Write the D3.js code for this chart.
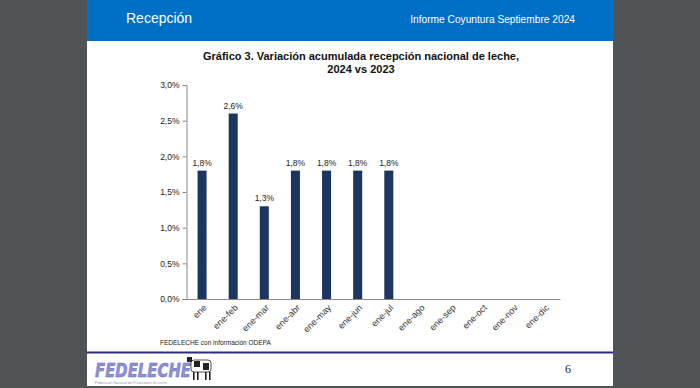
<!DOCTYPE html>
<html>
<head>
<meta charset="utf-8">
<script src="https://cdn.jsdelivr.net/npm/d3@7"></script>
<style>
  body { margin: 0; background: #505456; }
  svg { display: block; font-family: "Liberation Sans", Arial, sans-serif; }
</style>
</head>
<body>
<div id="chart"></div>
<script>
// data
const categories = ["ene", "ene-feb", "ene-mar", "ene-abr", "ene-may", "ene-jun", "ene-jul",
                    "ene-ago", "ene-sep", "ene-oct", "ene-nov", "ene-dic"];
const values = [1.8, 2.6, 1.3, 1.8, 1.8, 1.8, 1.8, null, null, null, null, null];
const yTicks = [0, 0.5, 1.0, 1.5, 2.0, 2.5, 3.0];

const w = 700, h = 388;
const fmt = d => d.toFixed(1).replace(".", ",") + "%";
const font = "'Liberation Sans', Arial, sans-serif";

const svg = d3.select("#chart")
    .append("svg")
    .attr("width", w)
    .attr("height", h);

// page
svg.append("rect").attr("width", w).attr("height", h).attr("fill", "#505456");
svg.append("rect").attr("x", 87).attr("y", 0).attr("width", 526).attr("height", 386).attr("fill", "#fff");
svg.append("rect").attr("x", 87).attr("y", 0).attr("width", 526).attr("height", 41).attr("fill", "#0070c6");

svg.append("text").attr("x", 126).attr("y", 23)
    .attr("fill", "#fff").attr("font-size", 14).text("Recepción");
svg.append("text").attr("x", 575).attr("y", 23).attr("text-anchor", "end")
    .attr("fill", "#fff").attr("font-size", 10.2).text("Informe Coyuntura Septiembre 2024");

// title
const title = svg.append("text").attr("text-anchor", "middle")
    .attr("font-weight", "bold").attr("font-size", 11).attr("fill", "#111");
title.append("tspan").attr("x", 361).attr("y", 60).text("Gráfico 3. Variación acumulada recepción nacional de leche,");
title.append("tspan").attr("x", 361).attr("y", 73).text("2024 vs 2023");

// scales
const x = d3.scaleBand().domain(categories).range([186.5, 560]).paddingInner(0.71).paddingOuter(0.355);
const y = d3.scaleLinear().domain([0, 3]).range([299, 85]);

// y axis
const yAxis = svg.append("g").attr("transform", "translate(186.5,0)")
    .call(d3.axisLeft(y).tickValues(yTicks).tickFormat(fmt).tickSize(4).tickPadding(3));
yAxis.selectAll("path, line").attr("stroke", "#888");
yAxis.selectAll("text").attr("font-size", 8.5).attr("fill", "#222")
    .attr("font-family", font);

const rows = categories.map((c, i) => ({ c: c, v: values[i] })).filter(d => d.v != null);

// bars
svg.selectAll(".bar")
    .data(rows)
    .enter().append("rect")
    .attr("class", "bar")
    .attr("x", d => x(d.c))
    .attr("width", x.bandwidth())
    .attr("y", d => y(d.v))
    .attr("height", d => y(0) - y(d.v))
    .attr("fill", "#1b365f");

svg.selectAll(".lbl")
    .data(rows)
    .enter().append("text")
    .attr("class", "lbl")
    .attr("x", d => x(d.c) + x.bandwidth() / 2)
    .attr("y", d => y(d.v) - 5)
    .attr("text-anchor", "middle")
    .attr("font-size", 8.5).attr("fill", "#222")
    .text(d => fmt(d.v));

// x axis
const xAxis = svg.append("g").attr("transform", "translate(0,299)")
    .call(d3.axisBottom(x).tickSize(0).tickPadding(0));
xAxis.select("path").attr("stroke", "#888");
xAxis.selectAll("text")
    .attr("font-size", 9).attr("fill", "#333")
    .attr("font-family", font)
    .attr("text-anchor", "end")
    .attr("dy", "0.35em")
    .attr("transform", "translate(3,7) rotate(-45)");

// source
svg.append("text").attr("x", 160).attr("y", 345)
    .attr("font-size", 6.5).attr("fill", "#222")
    .text("FEDELECHE  con información ODEPA");

// footer
svg.append("rect").attr("x", 87).attr("y", 351.5).attr("width", 526).attr("height", 2).attr("fill", "#2d2a87");
svg.append("text").attr("x", 95).attr("y", 377)
    .attr("font-size", 20).attr("font-weight", "bold").attr("fill", "#8d90d2")
    .attr("stroke", "#6d70b8").attr("stroke-width", 0.5)
    .attr("font-style", "italic")
    .attr("font-family", "'DejaVu Sans', sans-serif")
    .attr("textLength", 96).attr("lengthAdjust", "spacingAndGlyphs")
    .text("FEDELECHE");
svg.append("text").attr("x", 95).attr("y", 384)
    .attr("font-size", 3.5).attr("fill", "#999")
    .text("Federación Nacional de Productores de Leche");
// cow (rough)
const cow = svg.append("g").attr("transform", "translate(191,357)");
cow.append("rect").attr("x", 0).attr("y", 3).attr("width", 20).attr("height", 12).attr("rx", 3).attr("fill", "#fff").attr("stroke", "#222").attr("stroke-width", 0.8);
cow.append("rect").attr("x", 3).attr("y", 4).attr("width", 6).attr("height", 6).attr("fill", "#222");
cow.append("rect").attr("x", 12).attr("y", 6).attr("width", 6).attr("height", 7).attr("fill", "#222");
cow.append("rect").attr("x", -4).attr("y", 0).attr("width", 5).attr("height", 5).attr("fill", "#222");
[2, 6, 14, 18].forEach(lx => cow.append("rect").attr("x", lx).attr("y", 15).attr("width", 1.6).attr("height", 8).attr("fill", "#222"));

svg.append("text").attr("x", 568).attr("y", 373).attr("text-anchor", "middle")
    .attr("font-size", 12).attr("fill", "#222")
    .attr("font-family", "'Liberation Serif', 'DejaVu Serif', serif")
    .text("6");
</script>
</body>
</html>
